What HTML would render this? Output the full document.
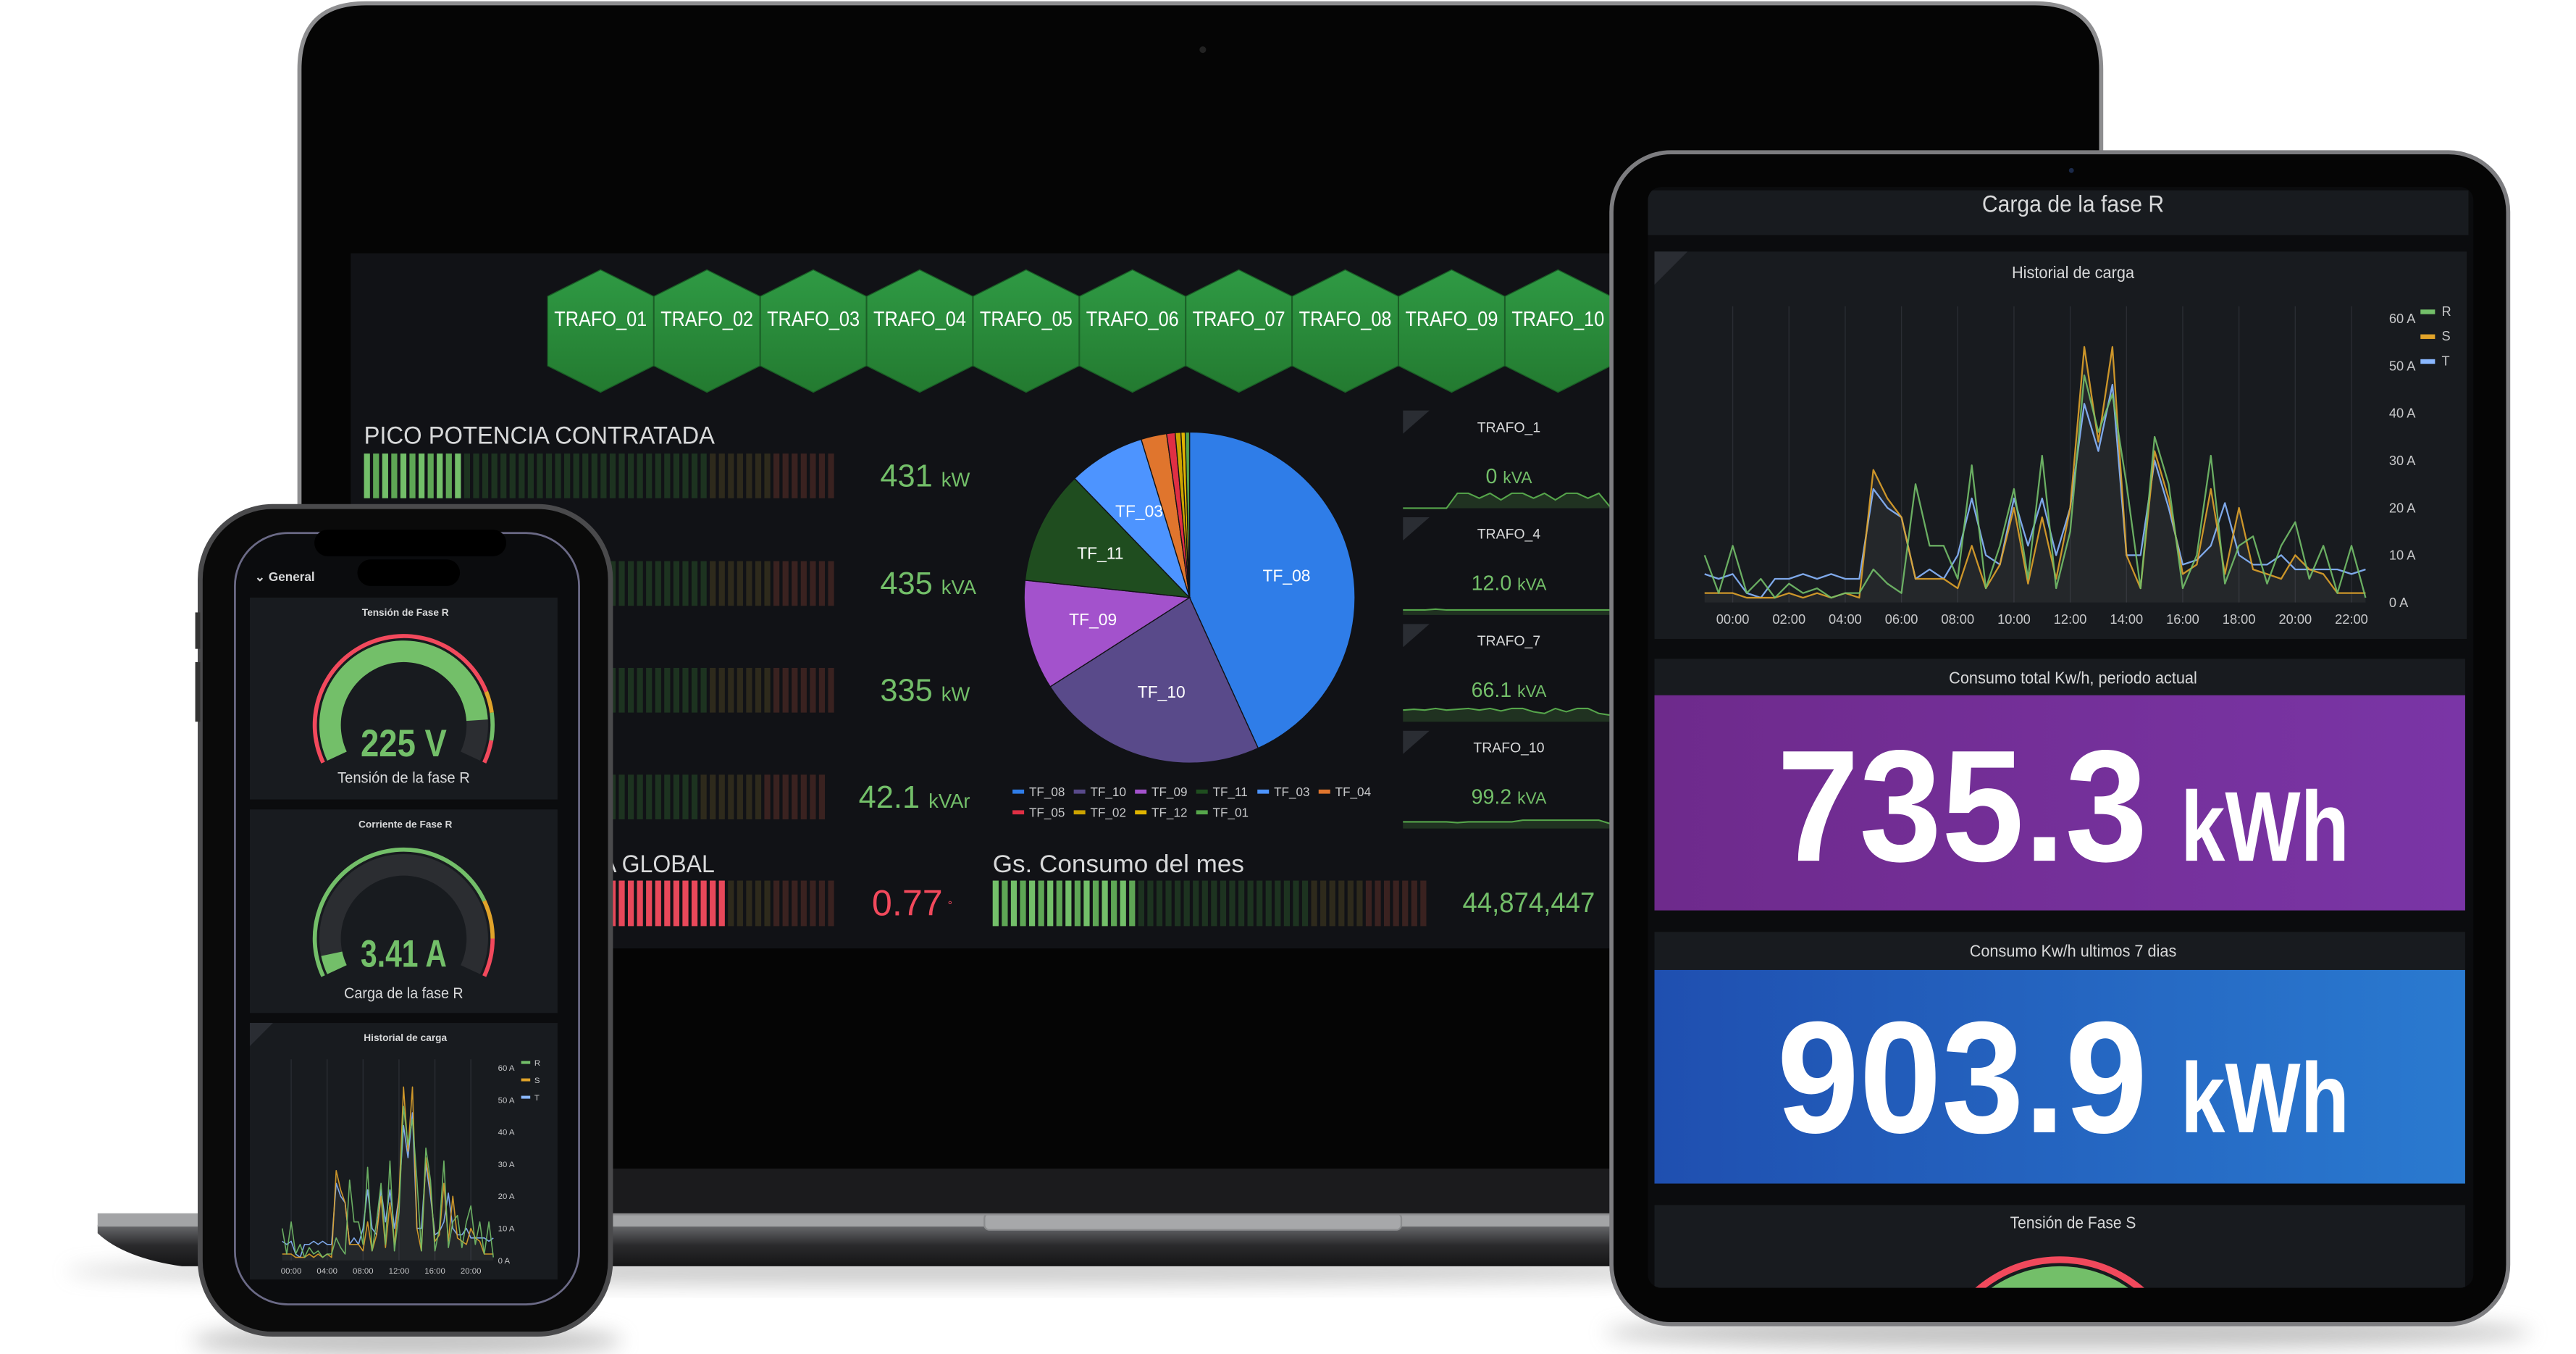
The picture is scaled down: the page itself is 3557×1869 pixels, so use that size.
<!DOCTYPE html>
<html><head><meta charset="utf-8">
<style>
html,body{margin:0;padding:0;background:#fff;width:3557px;height:1869px;overflow:hidden}
svg{display:block}
text{font-family:"Liberation Sans Narrow","Liberation Sans",sans-serif}
</style></head>
<body>
<svg id="s" width="3557" height="1869" viewBox="0 0 1557 818" preserveAspectRatio="none" xmlns="http://www.w3.org/2000/svg">
<defs>
 <linearGradient id="hexg" x1="0" y1="0" x2="0" y2="1"><stop offset="0" stop-color="#2f9a44"/><stop offset="1" stop-color="#237a30"/></linearGradient>
 <linearGradient id="purp" x1="0" y1="0" x2="1" y2="0"><stop offset="0" stop-color="#6e2a8c"/><stop offset="1" stop-color="#7a35a6"/></linearGradient>
 <linearGradient id="blu" x1="0" y1="0" x2="1" y2="0"><stop offset="0" stop-color="#1f4fb0"/><stop offset="1" stop-color="#2a7ad0"/></linearGradient>
 <linearGradient id="lip" x1="0" y1="0" x2="0" y2="1"><stop offset="0" stop-color="#6a6b6e"/><stop offset="0.5" stop-color="#2a2a2c"/><stop offset="1" stop-color="#151516"/></linearGradient>
 <filter id="blur" x="-20%" y="-50%" width="140%" height="200%"><feGaussianBlur stdDeviation="6"/></filter>
 <clipPath id="tabclip"><rect x="996" y="113" width="499" height="665" rx="8"/></clipPath>
 <clipPath id="phclip"><rect x="142" y="322" width="208" height="466" rx="32"/></clipPath>
</defs>

<ellipse cx="560" cy="768" rx="520" ry="8" fill="#999" opacity="0.5" filter="url(#blur)"/>
<ellipse cx="246" cy="810" rx="130" ry="10" fill="#888" opacity="0.5" filter="url(#blur)"/>
<ellipse cx="1250" cy="805" rx="280" ry="10" fill="#888" opacity="0.5" filter="url(#blur)"/>

<g>
 <path d="M59 740 L1290 740 L1290 765 L110 765 Q75 760 59 745 Z" fill="url(#lip)"/>
 <rect x="59" y="733" width="1231" height="8" fill="#a3a4a6"/>
 <rect x="595" y="733" width="252" height="10" rx="3" fill="#a7a8aa" stroke="#8b8c8e" stroke-width="1"/>
 <path d="M181 733 L181 42 Q181 2 221 2 L1230 2 Q1270 2 1270 42 L1270 733 Z" fill="#050505" stroke="#8e8e90" stroke-width="2.5"/>
 <rect x="183" y="706" width="1085" height="27" fill="#1b1b1d"/>
 <circle cx="727" cy="30" r="2" fill="#222"/>
 <rect x="212" y="153" width="762" height="420" fill="#111216"/>
 <g id="hexes"></g>
 <text x="220" y="268" font-size="15" fill="#d8d9da" textLength="212" lengthAdjust="spacingAndGlyphs">PICO POTENCIA CONTRATADA</text>
 <g id="bars"></g>
 <text x="432" y="527" font-size="15" fill="#d8d9da" text-anchor="end" textLength="215" lengthAdjust="spacingAndGlyphs">FACTOR DE POTENCIA GLOBAL</text>
 <text x="600" y="527" font-size="15" fill="#d8d9da" textLength="152" lengthAdjust="spacingAndGlyphs">Gs. Consumo del mes</text>
 <g id="pie"></g>
 <g id="stats"></g>
</g>

<g>
 <rect x="974" y="92" width="542" height="708" rx="36" fill="#050505" stroke="#7d7d80" stroke-width="2.5"/>
 <circle cx="1252" cy="103" r="1.5" fill="#1b2a4a"/>
 <rect x="996" y="113" width="499" height="665" rx="8" fill="#0b0c0e"/>
 <g clip-path="url(#tabclip)">
  <rect x="996" y="115" width="496" height="27" fill="#181b1f"/>
  <text x="1253" y="128" font-size="14" fill="#d8d9da" text-anchor="middle" textLength="110" lengthAdjust="spacingAndGlyphs">Carga de la fase R</text>
  <rect x="1000" y="152" width="491" height="234" fill="#181b1f"/>
  <path d="M1000 152 L1020 152 L1000 172 Z" fill="#2a2d33"/>
  <text x="1253" y="168" font-size="10" fill="#d8d9da" text-anchor="middle" textLength="74" lengthAdjust="spacingAndGlyphs">Historial de carga</text>
  <g id="tchart"></g>
  <rect x="1000" y="398" width="490" height="22" fill="#181b1f"/>
  <text x="1253" y="413" font-size="10" fill="#d8d9da" text-anchor="middle" textLength="150" lengthAdjust="spacingAndGlyphs">Consumo total Kw/h, periodo actual</text>
  <rect x="1000" y="420" width="490" height="130" fill="url(#purp)"/>
  <text x="1074" y="520" font-size="96" font-weight="bold" fill="#fff" textLength="224" lengthAdjust="spacingAndGlyphs">735.3</text>
  <text x="1318" y="520" font-size="60" font-weight="bold" fill="#fff" textLength="102" lengthAdjust="spacingAndGlyphs">kWh</text>
  <rect x="1000" y="563" width="490" height="23" fill="#181b1f"/>
  <text x="1253" y="578" font-size="10" fill="#d8d9da" text-anchor="middle" textLength="125" lengthAdjust="spacingAndGlyphs">Consumo Kw/h ultimos 7 dias</text>
  <rect x="1000" y="586" width="490" height="129" fill="url(#blu)"/>
  <text x="1074" y="684" font-size="96" font-weight="bold" fill="#fff" textLength="224" lengthAdjust="spacingAndGlyphs">903.9</text>
  <text x="1318" y="684" font-size="60" font-weight="bold" fill="#fff" textLength="102" lengthAdjust="spacingAndGlyphs">kWh</text>
  <rect x="1000" y="728" width="490" height="60" fill="#181b1f"/>
  <text x="1253" y="742" font-size="10" fill="#d8d9da" text-anchor="middle" textLength="76" lengthAdjust="spacingAndGlyphs">Tensión de Fase S</text>
  <g id="tgauge"></g>
 </g>
</g>

<g>
 <rect x="121" y="306" width="248" height="500" rx="44" fill="#0a0a0a" stroke="#4a4a4c" stroke-width="3"/>
 <rect x="118" y="370" width="3" height="22" fill="#333"/>
 <rect x="118" y="400" width="3" height="36" fill="#333"/>
 <rect x="142" y="322" width="208" height="466" rx="32" fill="#0b0c0e" stroke="#6b6a86" stroke-width="1.2"/>
 <g clip-path="url(#phclip)">
  <text x="154" y="351" font-size="7.5" fill="#d8d9da" font-weight="bold">⌄ General</text>
  <rect x="151" y="361" width="186" height="122" fill="#181b1f"/>
  <text x="245" y="372" font-size="6" fill="#d8d9da" text-anchor="middle" font-weight="bold">Tensión de Fase R</text>
  <g id="g1"></g>
  <text x="244" y="457" font-size="23" fill="#73bf69" text-anchor="middle" font-weight="bold" textLength="52" lengthAdjust="spacingAndGlyphs">225 V</text>
  <text x="244" y="473" font-size="9.5" fill="#d8d9da" text-anchor="middle" textLength="80" lengthAdjust="spacingAndGlyphs">Tensión de la fase R</text>
  <rect x="151" y="489" width="186" height="123" fill="#181b1f"/>
  <text x="245" y="500" font-size="6" fill="#d8d9da" text-anchor="middle" font-weight="bold">Corriente de Fase R</text>
  <g id="g2"></g>
  <text x="244" y="584" font-size="23" fill="#73bf69" text-anchor="middle" font-weight="bold" textLength="52" lengthAdjust="spacingAndGlyphs">3.41 A</text>
  <text x="244" y="603" font-size="9.5" fill="#d8d9da" text-anchor="middle" textLength="72" lengthAdjust="spacingAndGlyphs">Carga de la fase R</text>
  <rect x="151" y="618" width="186" height="155" fill="#181b1f"/>
  <path d="M151 618 L165 618 L151 632 Z" fill="#2a2d33"/>
  <text x="245" y="629" font-size="6" fill="#d8d9da" text-anchor="middle" font-weight="bold">Historial de carga</text>
  <g id="pchart"></g>
 </g>
 <rect x="190" y="320" width="116" height="16" rx="8" fill="#000"/>
 <rect x="216" y="338" width="62" height="16" rx="8" fill="#000"/>
</g>
</svg>

<script>
const NS = 'http://www.w3.org/2000/svg';
function mk(tag, attrs, parent){const e=document.createElementNS(NS,tag);for(const k in attrs)e.setAttribute(k,attrs[k]);parent.appendChild(e);return e;}

const trafoNames = ['TRAFO_01','TRAFO_02','TRAFO_03','TRAFO_04','TRAFO_05','TRAFO_06','TRAFO_07','TRAFO_08','TRAFO_09','TRAFO_10'];
const gaugeValues = ['431','435','335','42.1'];
const gaugeUnits = ['kW','kVA','kW','kVAr'];
const gaugeFractions = [0.21, 0.2, 0.15, 0.1];
const factorValue = 0.77;
const consumoFraction = 0.33;
const pieLabels = ['TF_08','TF_10','TF_09','TF_11','TF_03','TF_04','TF_05','TF_02','TF_12','TF_01'];
const pieValues = [155.5, 81.9, 38.6, 40, 27, 9, 3, 2, 1.5, 1.5];
const pieColors = ['#2f7de8','#594a8a','#a352cc','#1f4d1f','#4d94ff','#e0752d','#e02f44','#cca300','#e0b400','#56a64b'];
const statNames = ['TRAFO_1','TRAFO_4','TRAFO_7','TRAFO_10'];
const statValues = ['0','12.0','66.1','99.2'];
const spark1 = [0,0,0,0,0,9,9,6,9,5,9,9,6,9,5,9,9,6,9,1];
const spark2 = [3,3,3,3.5,3,3,3,3,3,3,3,3,3,3,3,3,3,3,3,3];
const spark3 = [7,7.5,7,8,7,7.5,8,7,8,6.5,8,8,6,5,8,6,8,8,5,4];
const spark4 = [4,4,4,4,4,3.5,4,4,4,4,4,5,5,5,5,5,5,5,5,3];
const hours = [-1,-0.5,0,0.5,1,1.5,2,2.5,3,3.5,4,4.5,5,5.5,6,6.5,7,7.5,8,8.5,9,9.5,10,10.5,11,11.5,12,12.5,13,13.5,14,14.5,15,15.5,16,16.5,17,17.5,18,18.5,19,19.5,20,20.5,21,21.5,22,22.5];
const seriesR = [10,2,12,2,5,1,4,2,3,1,2,2,7,4,2,25,12,12,5,29,3,12,24,5,31,3,15,48,36,44,25,3,35,25,3,10,31,4,12,14,4,12,17,5,12,2,12,1];
const seriesS = [2,2,2,1,1,1,2,1,2,1,2,1,28,22,18,5,5,5,3,12,3,8,20,4,18,5,20,54,34,54,10,3,32,22,6,8,24,6,20,7,6,5,10,7,6,2,2,2];
const seriesT = [6,5,6,2,1,5,5,6,5,6,5,5,24,20,18,5,7,5,10,22,10,8,22,12,22,10,20,42,32,46,10,10,30,20,8,9,12,21,10,8,8,10,7,7,7,7,6,7];
const yTicks = [0,10,20,30,40,50,60];
const yTickLabels = ['0 A','10 A','20 A','30 A','40 A','50 A','60 A'];
const tabletXTicks = [0,2,4,6,8,10,12,14,16,18,20,22];
const tabletXLabels = ['00:00','02:00','04:00','06:00','08:00','10:00','12:00','14:00','16:00','18:00','20:00','22:00'];
const phoneXTicks = [0,4,8,12,16,20];
const phoneXLabels = ['00:00','04:00','08:00','12:00','16:00','20:00'];
const gaugeReadings = [225, 3.41];
const gaugeMin = [190, 0];
const gaugeMax = [230, 60];

const hexG = document.getElementById('hexes');
trafoNames.forEach((n,i)=>{
  const cx = 363 + i*64.3, t=163, b=237, w=32;
  const p = mk('polygon',{points:`${cx},${t} ${cx+w},${t+16} ${cx+w},${b-16} ${cx},${b} ${cx-w},${b-16} ${cx-w},${t+16}`,fill:'url(#hexg)',stroke:'#1a5e26','stroke-width':0.6},hexG);
  
  
  const tx = mk('text',{x:cx,y:197,'font-size':12.5,fill:'#fff','text-anchor':'middle',textLength:56,lengthAdjust:'spacingAndGlyphs'},hexG);
  
  
  tx.textContent = n;
});

const barsG = document.getElementById('bars');
function segBar(x0,x1,y,h,frac,mode){
  const pitch=5.5, n=Math.floor((x1-x0)/pitch), lit=Math.round(frac*n);
  for(let i=0;i<n;i++){
    const f=i/n;
    let c;
    if(i<lit){ c = mode==='red' ? '#e8485a' : (i%2? '#5ea655':'#73bf69'); }
    else { c = f<0.72 ? '#1d3320' : (f<0.85 ? '#2e2a1c' : '#3a2220'); }
    const r = mk('rect',{x:x0+i*pitch,y:y,width:3.6,height:h,fill:c},barsG);
    
    
  }
}
const rowY=[274,339,403.5,468];
gaugeValues.forEach((v,i)=>{
  segBar(220, i===3?504:511, rowY[i], 27, gaugeFractions[i], 'green');
  const t = mk('text',{x:i===3?519:532,y:rowY[i]+20,'font-size':19,fill:'#73bf69'},barsG);
  
  
  t.innerHTML = v + ' <tspan font-size="12">'+gaugeUnits[i]+'</tspan>';
});
segBar(220,511,532,27.5,factorValue,'red');
const fv = mk('text',{x:527,y:553,'font-size':22,fill:'#f2495c'},barsG);


fv.innerHTML = factorValue.toFixed(2)+'<tspan font-size="7" dx="3" dy="-4">°</tspan>';
segBar(600,864,532,27.5,consumoFraction,'green');
const cv = mk('text',{x:884,y:551,'font-size':17,fill:'#73bf69',textLength:80,lengthAdjust:'spacingAndGlyphs'},barsG);


cv.textContent = '44,874,447';

const pieG = document.getElementById('pie');
const PCX=719, PCY=361, PR=100;
const total = pieValues.reduce((a,b)=>a+b,0);
let acc=0;
const pt=(r,a)=>[PCX+r*Math.sin(a*Math.PI/180), PCY-r*Math.cos(a*Math.PI/180)];
pieValues.forEach((v,i)=>{
  const a0=acc/total*360, a1=(acc+v)/total*360; acc+=v;
  const [x0,y0]=pt(PR,a0),[x1,y1]=pt(PR,a1);
  const s = mk('path',{d:`M${PCX},${PCY} L${x0},${y0} A${PR},${PR} 0 ${a1-a0>180?1:0} 1 ${x1},${y1} Z`,fill:pieColors[i],stroke:'#111216','stroke-width':0.6},pieG);
  
  
  if(v/total>0.06){
    const [lx,ly]=pt(PR*0.6,(a0+a1)/2);
    const l = mk('text',{x:lx,y:ly+3,'font-size':10,fill:'#fff','text-anchor':'middle'},pieG);
    
    
    l.textContent = pieLabels[i];
  }
});
pieLabels.forEach((n,i)=>{
  const row = i<6?0:1, col = i<6?i:i-6;
  const x = 612 + col*37, y = 478 + row*12.5;
  const sw = mk('rect',{x:x,y:y-1,width:7,height:2.5,fill:pieColors[i]},pieG);
  
  
  const t = mk('text',{x:x+10,y:y+3,'font-size':7.5,fill:'#c7c8ca'},pieG);
  
  
  t.textContent = n;
});

const statG = document.getElementById('stats');
const sparks = [spark1,spark2,spark3,spark4];
statNames.forEach((n,i)=>{
  const oy = i*64.5;
  const c = mk('path',{d:`M848 ${248+oy} L864 ${248+oy} L848 ${262+oy} Z`,fill:'#2a2d33'},statG);
  
  
  const t = mk('text',{x:912,y:261+oy,'font-size':8.5,fill:'#d8d9da','text-anchor':'middle'},statG);
  
  
  t.textContent = n;
  const v = mk('text',{x:912,y:292+oy,'font-size':12.5,fill:'#73bf69','text-anchor':'middle'},statG);
  
  
  v.innerHTML = statValues[i]+' <tspan font-size="10">kVA</tspan>';
  const d = sparks[i], x0=848, x1=973, yb=307+oy, hh=10;
  const px = k => x0 + k*(x1-x0)/(d.length-1);
  const py = val => yb - val/10*hh;
  let line = d.map((val,k)=>`${k?'L':'M'}${px(k).toFixed(1)},${py(val).toFixed(1)}`).join(' ');
  const area = mk('path',{d:line+` L${x1},${yb} L${x0},${yb} Z`,fill:'rgba(86,166,75,0.22)'},statG);
  
  
  const ln = mk('path',{d:line,fill:'none',stroke:'#56a64b','stroke-width':0.9},statG);
  
  
});

function drawChart(g, x0h, pxPerH, y0, pxPerA, xTicks, xLabels, fs, labX, legX, legY, legStep, top, lw){
  const X = h => x0h + h*pxPerH;
  const Y = a => y0 - a*pxPerA;
  xTicks.forEach((h,i)=>{
    const gl = mk('line',{x1:X(h),x2:X(h),y1:top,y2:y0,stroke:'#2a2d33','stroke-width':0.6},g);
    
    
    const t = mk('text',{x:X(h),y:y0+fs*1.6,'font-size':fs,fill:'#c7c8ca','text-anchor':'middle'},g);
    
    
    t.textContent = xLabels[i];
  });
  yTicks.forEach((a,i)=>{
    const t = mk('text',{x:labX,y:Y(a)+fs*0.35,'font-size':fs,fill:'#c7c8ca'},g);
    
    
    t.textContent = yTickLabels[i];
  });
  const mkLine = arr => arr.map((v,k)=>`${k?'L':'M'}${X(hours[k]).toFixed(1)},${Y(v).toFixed(1)}`).join(' ');
  const area = mk('path',{d:mkLine(seriesS)+` L${X(hours[hours.length-1])},${y0} L${X(hours[0])},${y0} Z`,fill:'rgba(200,200,200,0.07)'},g);
  
  
  const sers = [[seriesT,'#8ab8ff','T'],[seriesS,'#e0a32a','S'],[seriesR,'#73bf69','R']];
  sers.forEach(([arr,col,name])=>{
    const p = mk('path',{d:mkLine(arr),fill:'none',stroke:col,'stroke-width':lw,'stroke-linejoin':'round',opacity:0.9},g);
    
    
  });
  ['R','S','T'].forEach((n,i)=>{
    const col = ['#73bf69','#e0a32a','#8ab8ff'][i];
    const sw = mk('rect',{x:legX,y:legY+i*legStep-1,width:fs*1.1,height:fs*0.35,fill:col},g);
    
    
    const t = mk('text',{x:legX+fs*1.6,y:legY+i*legStep+fs*0.35,'font-size':fs,fill:'#c7c8ca'},g);
    
    
    t.textContent = n;
  });
}
drawChart(document.getElementById('tchart'), 1047.3, 17.0, 364, 2.86, tabletXTicks, tabletXLabels, 8, 1444, 1463, 188, 15, 185, 1);
drawChart(document.getElementById('pchart'), 176, 5.43, 761.5, 1.94, phoneXTicks, phoneXLabels, 5, 301, 315, 642, 10.5, 640, 0.7);

function arc(cx,cy,r1,r2,a0,a1){
  const p=(r,a)=>[cx+r*Math.sin(a*Math.PI/180), cy-r*Math.cos(a*Math.PI/180)];
  const L = (a1-a0)>180?1:0;
  const [ox0,oy0]=p(r2,a0),[ox1,oy1]=p(r2,a1),[ix1,iy1]=p(r1,a1),[ix0,iy0]=p(r1,a0);
  return `M${ox0},${oy0} A${r2},${r2} 0 ${L} 1 ${ox1},${oy1} L${ix1},${iy1} A${r1},${r1} 0 ${L} 0 ${ix0},${iy0} Z`;
}
function gauge(g,cx,cy,val,min,max,thr){
  const A0=-115, A1=115;
  const va = A0 + (val-min)/(max-min)*(A1-A0);
  const bg = mk('path',{d:arc(cx,cy,38,51,A0,A1),fill:'#2b2d31'},g);
  
  
  const fg = mk('path',{d:arc(cx,cy,38,51,A0,va),fill:'#73bf69'},g);
  
  
  thr.forEach(([a,b,c])=>{
    const t = mk('path',{d:arc(cx,cy,52.5,55,a,b),fill:c},g);
    
    
  });
}
gauge(document.getElementById('g1'),244,438,gaugeReadings[0],gaugeMin[0],gaugeMax[0],[[-115,68,'#f2495c'],[68,82,'#e0a32a'],[82,100,'#73bf69'],[100,115,'#f2495c']]);
gauge(document.getElementById('g2'),244,567,gaugeReadings[1],gaugeMin[1],gaugeMax[1],[[-115,65,'#73bf69'],[65,90,'#e0a32a'],[90,115,'#f2495c']]);

const tg = document.getElementById('tgauge');
const tr = mk('path',{d:arc(1245,837,74,78,-60,60),fill:'#f2495c'},tg);


const tf = mk('path',{d:arc(1245,837,52,72,-60,60),fill:'#73bf69'},tg);


</script>
</body></html>
